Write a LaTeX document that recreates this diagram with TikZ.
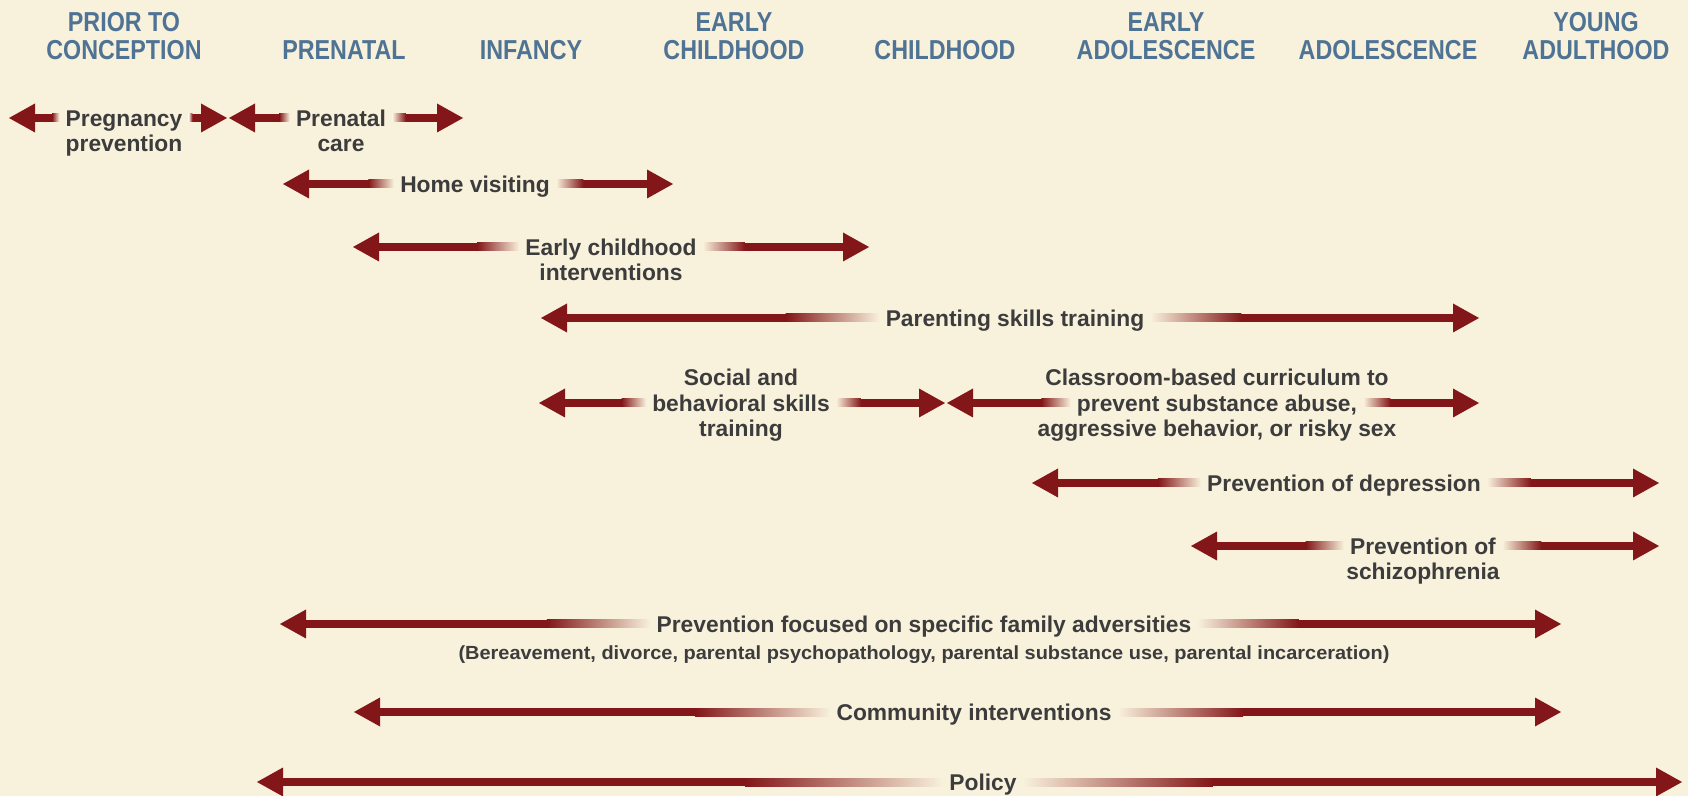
\documentclass[tikz,border=0pt]{standalone}
\usepackage{fontspec}
\setmainfont{Liberation Sans}
\newfontfamily\hdrfont{Liberation Sans}[FakeStretch=0.85]
\newfontfamily\subfont{Liberation Sans}[FakeStretch=1.05]
\usetikzlibrary{calc}
\definecolor{bg}{HTML}{F8F1DC}
\definecolor{arrred}{HTML}{831618}
\definecolor{txtgray}{HTML}{3C3C3C}
\definecolor{hdrblue}{HTML}{4F7394}
% left half-arrow: #1 tip coordinate, #2 shaft end (label west)
\newcommand{\arrL}[2]{%
  \coordinate (hb) at ($(#1)+(26,0)$);
  \coordinate (fs) at ($(hb)!0.7!(#2)$);
  \fill[arrred] ($(hb)+(-1,-4)$) rectangle ($(fs)+(0.5,4)$);
  \shade[left color=arrred, right color=bg] ($(fs)+(0,-4)$) rectangle ($(#2)+(0,4)$);
  \fill[arrred] (#1) -- ($(hb)+(0,-14.5)$) -- ($(hb)+(0,14.5)$) -- cycle;
}
% right half-arrow: #1 shaft start (label east), #2 tip coordinate
\newcommand{\arrR}[2]{%
  \coordinate (hb) at ($(#2)+(-26,0)$);
  \coordinate (fs) at ($(hb)!0.7!(#1)$);
  \fill[arrred] ($(fs)+(-0.5,-4)$) rectangle ($(hb)+(1,4)$);
  \shade[left color=bg, right color=arrred] ($(#1)+(0,-4)$) rectangle ($(fs)+(0,4)$);
  \fill[arrred] (#2) -- ($(hb)+(0,-14.5)$) -- ($(hb)+(0,14.5)$) -- cycle;
}
\begin{document}
\begin{tikzpicture}[x=0.5pt,y=-0.5pt,
  hdr/.style={font=\hdrfont\bfseries\fontsize{13.7}{14}\selectfont, text=hdrblue, anchor=base, inner sep=0pt},
  lbl/.style={font=\bfseries\fontsize{11.4}{12}\selectfont, text=txtgray, inner xsep=3pt, inner ysep=0pt, text height=8.2pt, text depth=0pt, anchor=center},
  sublbl/.style={font=\subfont\bfseries\fontsize{9.5}{10}\selectfont, text=txtgray, inner sep=0pt, text height=6.8pt, text depth=0pt, anchor=center}]
\fill[bg] (0,0) rectangle (1688,796);
\useasboundingbox (0,0) rectangle (1688,796);

% headers
\node[hdr] (h1a) at (124,32) {PRIOR TO};
\node[hdr] (h1b) at (124,60) {CONCEPTION};
\node[hdr] (h2) at (344,60) {PRENATAL};
\node[hdr] (h3) at (531,60) {INFANCY};
\node[hdr] (h4a) at (734,32) {EARLY};
\node[hdr] (h4b) at (734,60) {CHILDHOOD};
\node[hdr] (h5) at (945,60) {CHILDHOOD};
\node[hdr] (h6a) at (1166,32) {EARLY};
\node[hdr] (h6b) at (1166,60) {ADOLESCENCE};
\node[hdr] (h7) at (1388,60) {ADOLESCENCE};
\node[hdr] (h8a) at (1596,32) {YOUNG};
\node[hdr] (h8b) at (1596,60) {ADULTHOOD};

% Pregnancy prevention
\coordinate (pregL) at (9,118); \coordinate (pregR) at (227,118);
\node[lbl] (preg) at (124,118) {Pregnancy};
\node[lbl] (preg2) at (124,143) {prevention};
\arrL{pregL}{preg.west} \arrR{preg.east}{pregR}

% Prenatal care
\coordinate (prenL) at (229,118); \coordinate (prenR) at (463,118);
\node[lbl] (pren) at (341,118) {Prenatal};
\node[lbl] (pren2) at (341,143) {care};
\arrL{prenL}{pren.west} \arrR{pren.east}{prenR}

% Home visiting
\coordinate (homeL) at (283,184); \coordinate (homeR) at (673,184);
\node[lbl] (home) at (475,184) {Home visiting};
\arrL{homeL}{home.west} \arrR{home.east}{homeR}

% Early childhood interventions
\coordinate (eciL) at (353,247); \coordinate (eciR) at (869,247);
\node[lbl] (eci) at (611,247) {Early childhood};
\node[lbl] (eci2) at (611,272) {interventions};
\arrL{eciL}{eci.west} \arrR{eci.east}{eciR}

% Parenting skills training
\coordinate (parL) at (541,318); \coordinate (parR) at (1479,318);
\node[lbl] (par) at (1015,318) {Parenting skills training};
\arrL{parL}{par.west} \arrR{par.east}{parR}

% Social and behavioral skills training
\coordinate (socL) at (539,403); \coordinate (socR) at (945,403);
\node[lbl] (soc1) at (741,377) {Social and};
\node[lbl] (soc) at (741,403) {behavioral skills};
\node[lbl] (soc3) at (741,428) {training};
\arrL{socL}{soc.west} \arrR{soc.east}{socR}

% Classroom-based curriculum
\coordinate (clsL) at (947,403); \coordinate (clsR) at (1479,403);
\node[lbl] (cls1) at (1217,377) {Classroom-based curriculum to};
\node[lbl] (cls) at (1217,403) {prevent substance abuse,};
\node[lbl] (cls3) at (1217,428) {aggressive behavior, or risky sex};
\arrL{clsL}{cls.west} \arrR{cls.east}{clsR}

% Prevention of depression
\coordinate (depL) at (1032,483); \coordinate (depR) at (1659,483);
\node[lbl] (dep) at (1344,483) {Prevention of depression};
\arrL{depL}{dep.west} \arrR{dep.east}{depR}

% Prevention of schizophrenia
\coordinate (schL) at (1191,546); \coordinate (schR) at (1659,546);
\node[lbl] (sch) at (1423,546) {Prevention of};
\node[lbl] (sch2) at (1423,571) {schizophrenia};
\arrL{schL}{sch.west} \arrR{sch.east}{schR}

% Family adversities
\coordinate (famL) at (280,624); \coordinate (famR) at (1561,624);
\node[lbl] (fam) at (924,624) {Prevention focused on specific family adversities};
\node[sublbl] (fam2) at (924,653) {(Bereavement, divorce, parental psychopathology, parental substance use, parental incarceration)};
\arrL{famL}{fam.west} \arrR{fam.east}{famR}

% Community interventions
\coordinate (comL) at (354,712); \coordinate (comR) at (1561,712);
\node[lbl] (com) at (974,712) {Community interventions};
\arrL{comL}{com.west} \arrR{com.east}{comR}

% Policy
\coordinate (polL) at (257,782); \coordinate (polR) at (1682,782);
\node[lbl] (pol) at (983,782) {Policy};
\arrL{polL}{pol.west} \arrR{pol.east}{polR}
\end{tikzpicture}
\end{document}
